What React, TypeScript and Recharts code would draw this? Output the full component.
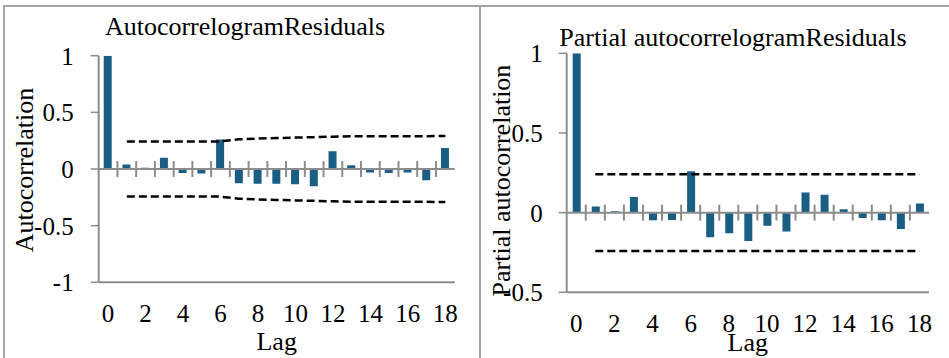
// Autocorrelogram and partial autocorrelogram of model residuals (two panels side by side).
import React from 'react';
import { ComposedChart, Bar, Line, XAxis, YAxis, ReferenceLine } from 'recharts';

const FONT = "'Liberation Serif', 'Times New Roman', serif";
const BAR = '#1b5e83';
const AXIS = '#8c8c8c';
const FRAME = '#a6a6a6';

// lags 0..18
const lags = [0, 1, 2, 3, 4, 5, 6, 7, 8, 9, 10, 11, 12, 13, 14, 15, 16, 17, 18];

// ACF of residuals
const acfValues = [1, 0.04, 0.01, 0.1, -0.035, -0.04, 0.26, -0.125, -0.13, -0.13, -0.135, -0.153, 0.157, 0.033, -0.03, -0.035, -0.03, -0.1, 0.186];
const acfUpper = [null, 0.242, 0.242, 0.242, 0.242, 0.242, 0.244, 0.262, 0.268, 0.273, 0.277, 0.281, 0.285, 0.289, 0.29, 0.29, 0.29, 0.29, 0.291];
const acfLower = [null, -0.242, -0.242, -0.242, -0.242, -0.242, -0.244, -0.262, -0.268, -0.273, -0.277, -0.281, -0.285, -0.289, -0.29, -0.29, -0.29, -0.29, -0.291];

// PACF of residuals
const pacfValues = [1, 0.038, 0.008, 0.098, -0.048, -0.046, 0.259, -0.155, -0.13, -0.178, -0.082, -0.119, 0.127, 0.113, 0.021, -0.034, -0.048, -0.103, 0.058];
const pacfUpper = [null, 0.241, 0.241, 0.241, 0.241, 0.241, 0.241, 0.241, 0.241, 0.241, 0.241, 0.241, 0.241, 0.241, 0.241, 0.241, 0.241, 0.241, 0.241];
const pacfLower = [null, -0.241, -0.241, -0.241, -0.241, -0.241, -0.241, -0.241, -0.241, -0.241, -0.241, -0.241, -0.241, -0.241, -0.241, -0.241, -0.241, -0.241, -0.241];

const acfTicks = [-1, -0.5, 0, 0.5, 1];
const pacfTicks = [-0.5, 0, 0.5, 1];

const acfData = lags.map((lag, i) => ({ lag, value: acfValues[i], upper: acfUpper[i], lower: acfLower[i] }));
const pacfData = lags.map((lag, i) => ({ lag, value: pacfValues[i], upper: pacfUpper[i], lower: pacfLower[i] }));

type PanelProps = {
  data: any[];
  left: number;
  width: number;
  plot: { left: number; top: number; right: number; bottom: number }; // relative to panel
  domain: [number, number];
  ticks: number[];
  tickMargin: number;
};

const Panel: React.FC<PanelProps> = ({ data, left, width, plot, domain, ticks, tickMargin }) => {
  const height = 358;
  const yAxisW = 60;
  const xAxisH = 40;
  const plotW = plot.right - plot.left;
  const plotH = plot.bottom - plot.top;
  const band = plotW / data.length;
  const zeroY = plot.top + (plotH * domain[1]) / (domain[1] - domain[0]);
  const labelY = plot.bottom + 39.5;

  const renderTick = (props: any) => {
    const { x, payload } = props;
    const lag = payload.value as number;
    return (
      <g>
        {lag % 2 === 0 && (
          <text x={x} y={labelY} textAnchor="middle" fontSize={25} fontFamily={FONT} fill="#000">
            {lag}
          </text>
        )}
        {lag < lags.length - 1 && (
          <line x1={x + band / 2} x2={x + band / 2} y1={zeroY - 8} y2={zeroY + 8} stroke={AXIS} strokeWidth={2} />
        )}
      </g>
    );
  };

  return (
    <div style={{ position: 'absolute', left, top: 0 }}>
      <ComposedChart
        width={width}
        height={height}
        data={data}
        margin={{
          top: plot.top,
          left: plot.left - yAxisW,
          right: width - plot.right,
          bottom: height - plot.bottom - xAxisH,
        }}
      >
        <XAxis
          dataKey="lag"
          type="category"
          height={xAxisH}
          interval={0}
          tickLine={false}
          axisLine={{ stroke: AXIS, strokeWidth: 2 }}
          tick={renderTick}
        />
        <XAxis xAxisId="top" dataKey="lag" orientation="top" height={0} tick={false} tickLine={false} axisLine={{ stroke: AXIS, strokeWidth: 2 }} />
        <YAxis
          type="number"
          domain={domain}
          ticks={ticks}
          width={yAxisW}
          tickSize={8}
          tickMargin={tickMargin}
          axisLine={{ stroke: AXIS, strokeWidth: 2 }}
          tickLine={{ stroke: AXIS, strokeWidth: 1.5 }}
          tick={{ fontSize: 25, fontFamily: FONT, fill: '#000' }}
          allowDataOverflow
        />
        <YAxis yAxisId="right" orientation="right" domain={domain} width={0} tick={false} tickLine={false} axisLine={{ stroke: AXIS, strokeWidth: 2 }} />
        <ReferenceLine y={0} stroke={AXIS} strokeWidth={2} />
        <Bar dataKey="value" fill={BAR} barSize={8} isAnimationActive={false} />
        <Line type="linear" dataKey="upper" stroke="#000" strokeWidth={2.5} strokeDasharray="8 4" dot={false} activeDot={false} isAnimationActive={false} />
        <Line type="linear" dataKey="lower" stroke="#000" strokeWidth={2.5} strokeDasharray="8 4" dot={false} activeDot={false} isAnimationActive={false} />
      </ComposedChart>
    </div>
  );
};

const App: React.FC = () => {
  const txt = { fontFamily: FONT, fill: '#000' };
  return (
    <div style={{ position: 'absolute', left: 0, top: 0, width: 949, height: 358, background: '#fff', overflow: 'hidden' }}>
      <Panel
        data={acfData}
        left={0}
        width={480}
        plot={{ left: 98.7, top: 55.7, right: 454.7, bottom: 282.3 }}
        domain={[-1, 1]}
        ticks={acfTicks}
        tickMargin={17}
      />
      <Panel
        data={pacfData}
        left={480}
        width={469}
        plot={{ left: 86.7, top: 53.3, right: 449, bottom: 292.3 }}
        domain={[-0.5, 1]}
        ticks={pacfTicks}
        tickMargin={16}
      />
      <svg width={949} height={358} style={{ position: 'absolute', left: 0, top: 0, pointerEvents: 'none' }}>
        {/* outer frame */}
        <line x1={3} x2={949} y1={6} y2={6} stroke={FRAME} strokeWidth={2} />
        <line x1={4} x2={4} y1={5} y2={358} stroke={FRAME} strokeWidth={2} />
        <line x1={480} x2={480} y1={5} y2={358} stroke={FRAME} strokeWidth={2} />
        {/* titles */}
        <text x={245} y={35} textAnchor="middle" fontSize={26} {...txt}>AutocorrelogramResiduals</text>
        <text x={733} y={45.5} textAnchor="middle" fontSize={26} {...txt}>Partial autocorrelogramResiduals</text>
        {/* axis titles */}
        <text transform="translate(33,170) rotate(-90)" textAnchor="middle" fontSize={26} {...txt}>Autocorrelation</text>
        <text transform="translate(510,180.5) rotate(-90)" textAnchor="middle" fontSize={26} {...txt}>Partial autocorrelation</text>
        <text x={276.7} y={349.5} textAnchor="middle" fontSize={26} {...txt}>Lag</text>
        <text x={747.8} y={351} textAnchor="middle" fontSize={26} {...txt}>Lag</text>
      </svg>
    </div>
  );
};

export default App;
